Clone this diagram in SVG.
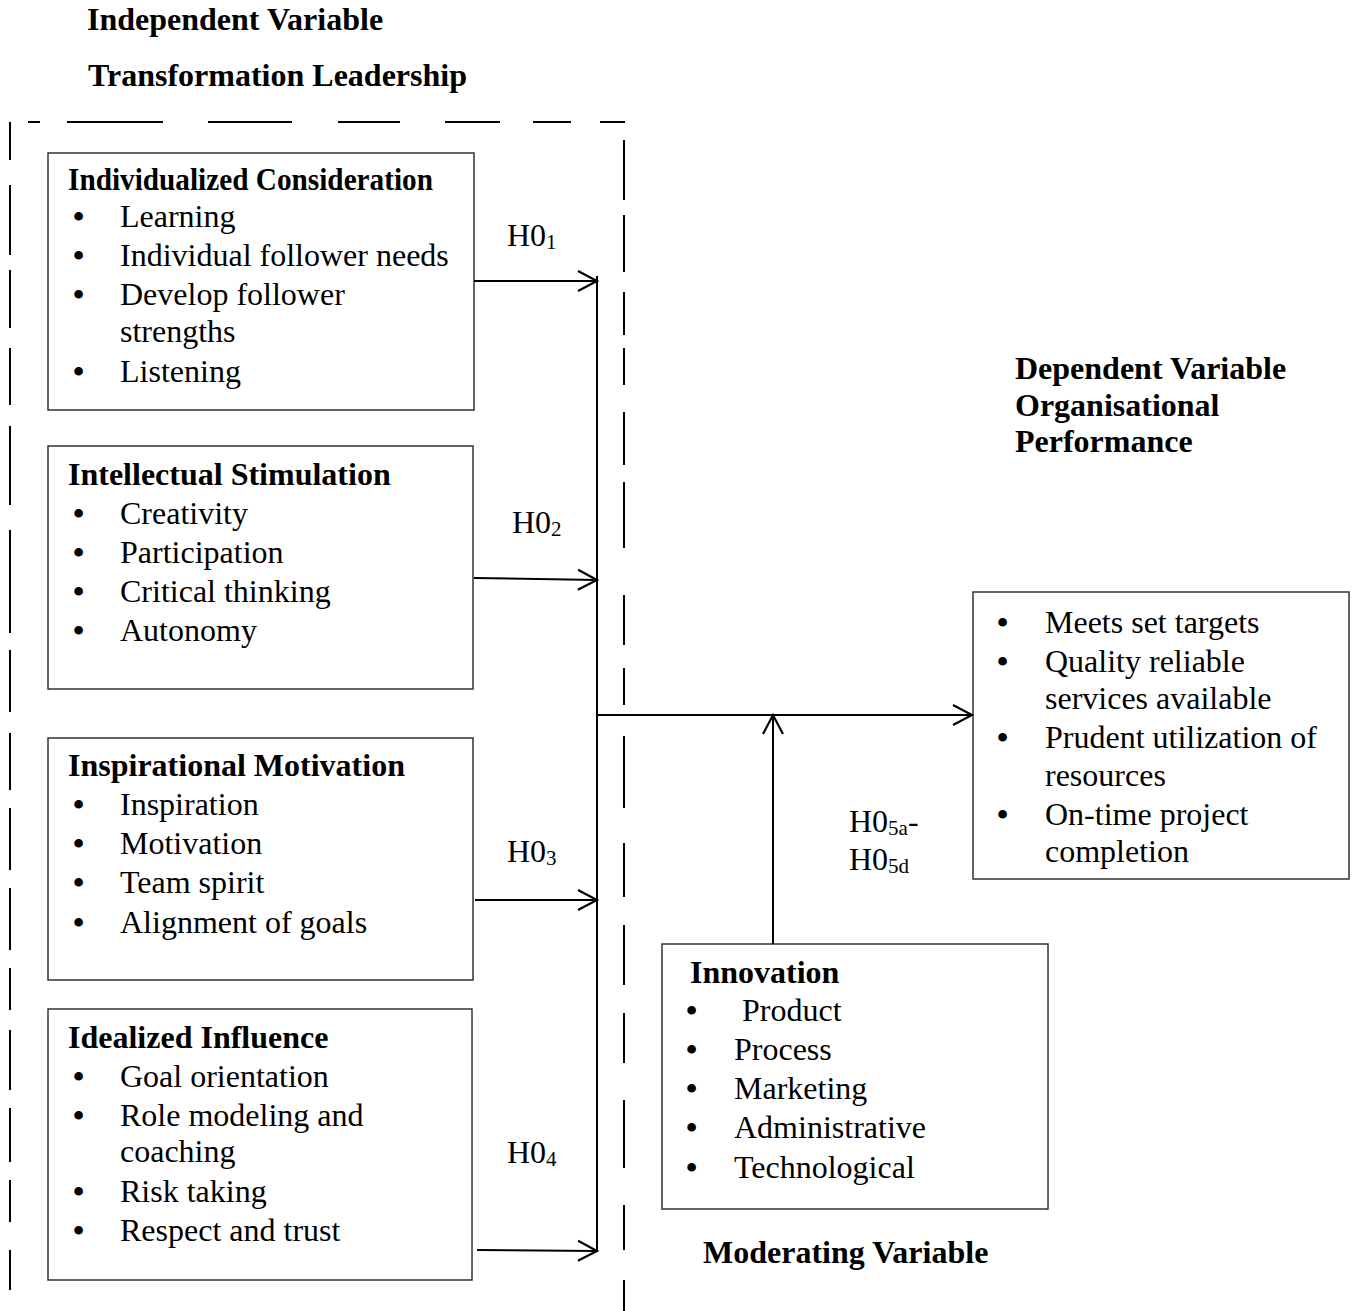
<svg xmlns="http://www.w3.org/2000/svg" width="1356" height="1311" viewBox="0 0 1356 1311">
<defs>
<style>
text{font-family:"Liberation Serif","Times New Roman",serif;font-size:32px;fill:#000}
.b{font-weight:bold}
.sub{font-size:21px}
.box{fill:#fff;stroke:#333;stroke-width:1.5}
.ln{fill:none;stroke:#000;stroke-width:2}
.dash{fill:none;stroke:#000;stroke-width:2}
.bul{font-weight:bold}
</style>
<marker id="arr" markerUnits="userSpaceOnUse" markerWidth="24" markerHeight="24" refX="20" refY="11" orient="auto" viewBox="0 0 24 22">
<path d="M1,1 L20,11 L1,21" fill="none" stroke="#000" stroke-width="2.2"/>
</marker>
</defs>
<rect width="1356" height="1311" fill="#fff"/>

<g id="titles">
<text class="b" x="87" y="30">Independent Variable</text>
<text class="b" x="88" y="86">Transformation Leadership</text>
<text class="b" x="1015" y="379">Dependent Variable</text>
<text class="b" x="1015" y="416">Organisational</text>
<text class="b" x="1015" y="452">Performance</text>
<text class="b" x="703" y="1263">Moderating Variable</text>
</g>

<g id="dashed-frame">
<path class="dash" d="M28,122H40 M67,122H163 M208,122H292 M338,122H400 M445,122H500 M533,122H571 M600,122H625"/>
<path class="dash" d="M10,122V160 M10,185V255 M10,270V328 M10,348V405 M10,426V505 M10,530V633 M10,650V712 M10,733V790 M10,808V870 M10,888V950 M10,968V1010 M10,1030V1090 M10,1108V1162 M10,1180V1222 M10,1250V1290"/>
<path class="dash" d="M624,140V200 M624,215V272 M624,292V335 M624,348V385 M624,412V465 M624,482V548 M624,595V645 M624,668V705 M624,736V808 M624,843V897 M624,925V985 M624,1013V1063 M624,1100V1168 M624,1205V1250 M624,1280V1311"/>
</g>

<g id="node-individualized">
<rect class="box" x="48" y="153" width="426" height="257"/>
<text class="b" x="68" y="190" textLength="365" lengthAdjust="spacingAndGlyphs">Individualized Consideration</text>
<text y="227"><tspan class="bul" x="73">•</tspan><tspan x="120">Learning</tspan></text>
<text y="266"><tspan class="bul" x="73">•</tspan><tspan x="120">Individual follower needs</tspan></text>
<text y="305"><tspan class="bul" x="73">•</tspan><tspan x="120">Develop  follower</tspan></text>
<text x="120" y="342">strengths</text>
<text y="382"><tspan class="bul" x="73">•</tspan><tspan x="120">Listening</tspan></text>
</g>

<g id="node-intellectual">
<rect class="box" x="48" y="446" width="425" height="243"/>
<text class="b" x="68" y="485">Intellectual Stimulation</text>
<text y="524"><tspan class="bul" x="73">•</tspan><tspan x="120">Creativity</tspan></text>
<text y="563"><tspan class="bul" x="73">•</tspan><tspan x="120">Participation</tspan></text>
<text y="602"><tspan class="bul" x="73">•</tspan><tspan x="120">Critical thinking</tspan></text>
<text y="641"><tspan class="bul" x="73">•</tspan><tspan x="120">Autonomy</tspan></text>
</g>

<g id="node-inspirational">
<rect class="box" x="48" y="738" width="425" height="242"/>
<text class="b" x="68" y="776">Inspirational Motivation</text>
<text y="815"><tspan class="bul" x="73">•</tspan><tspan x="120">Inspiration</tspan></text>
<text y="854"><tspan class="bul" x="73">•</tspan><tspan x="120">Motivation</tspan></text>
<text y="893"><tspan class="bul" x="73">•</tspan><tspan x="120">Team spirit</tspan></text>
<text y="933"><tspan class="bul" x="73">•</tspan><tspan x="120">Alignment of goals</tspan></text>
</g>

<g id="node-idealized">
<rect class="box" x="48" y="1009" width="424" height="271"/>
<text class="b" x="68" y="1048">Idealized Influence</text>
<text y="1087"><tspan class="bul" x="73">•</tspan><tspan x="120">Goal orientation</tspan></text>
<text y="1126"><tspan class="bul" x="73">•</tspan><tspan x="120">Role modeling and</tspan></text>
<text x="120" y="1162">coaching</text>
<text y="1202"><tspan class="bul" x="73">•</tspan><tspan x="120">Risk taking</tspan></text>
<text y="1241"><tspan class="bul" x="73">•</tspan><tspan x="120">Respect and trust</tspan></text>
</g>

<g id="node-performance">
<rect class="box" x="973" y="592" width="376" height="287"/>
<text y="633"><tspan class="bul" x="997">•</tspan><tspan x="1045">Meets set targets</tspan></text>
<text y="672"><tspan class="bul" x="997">•</tspan><tspan x="1045">Quality reliable</tspan></text>
<text x="1045" y="709">services available</text>
<text y="748"><tspan class="bul" x="997">•</tspan><tspan x="1045">Prudent utilization of</tspan></text>
<text x="1045" y="786">resources</text>
<text y="825"><tspan class="bul" x="997">•</tspan><tspan x="1045">On-time project</tspan></text>
<text x="1045" y="862">completion</text>
</g>

<g id="node-innovation">
<rect class="box" x="662" y="944" width="386" height="265"/>
<text class="b" x="690" y="983">Innovation</text>
<text y="1021"><tspan class="bul" x="686">•</tspan><tspan x="742">Product</tspan></text>
<text y="1060"><tspan class="bul" x="686">•</tspan><tspan x="734">Process</tspan></text>
<text y="1099"><tspan class="bul" x="686">•</tspan><tspan x="734">Marketing</tspan></text>
<text y="1138"><tspan class="bul" x="686">•</tspan><tspan x="734">Administrative</tspan></text>
<text y="1178"><tspan class="bul" x="686">•</tspan><tspan x="734">Technological</tspan></text>
</g>

<g id="connectors">
<path class="ln" d="M597,276V1252"/>
<path class="ln" d="M474,281H597" marker-end="url(#arr)"/>
<path class="ln" d="M474,578L597,580" marker-end="url(#arr)"/>
<path class="ln" d="M475,900H597" marker-end="url(#arr)"/>
<path class="ln" d="M477,1250L597,1251" marker-end="url(#arr)"/>
<path class="ln" d="M597,715H972" marker-end="url(#arr)"/>
<path class="ln" d="M773,944V715" marker-end="url(#arr)"/>
</g>

<g id="labels">
<text x="507" y="246">H0<tspan class="sub" dy="3">1</tspan></text>
<text x="512" y="533">H0<tspan class="sub" dy="3">2</tspan></text>
<text x="507" y="862">H0<tspan class="sub" dy="3">3</tspan></text>
<text x="507" y="1163">H0<tspan class="sub" dy="3">4</tspan></text>
<text x="849" y="832">H0<tspan class="sub" dy="3">5a</tspan><tspan dy="-3">-</tspan></text>
<text x="849" y="870">H0<tspan class="sub" dy="3">5d</tspan></text>
</g>
</svg>
